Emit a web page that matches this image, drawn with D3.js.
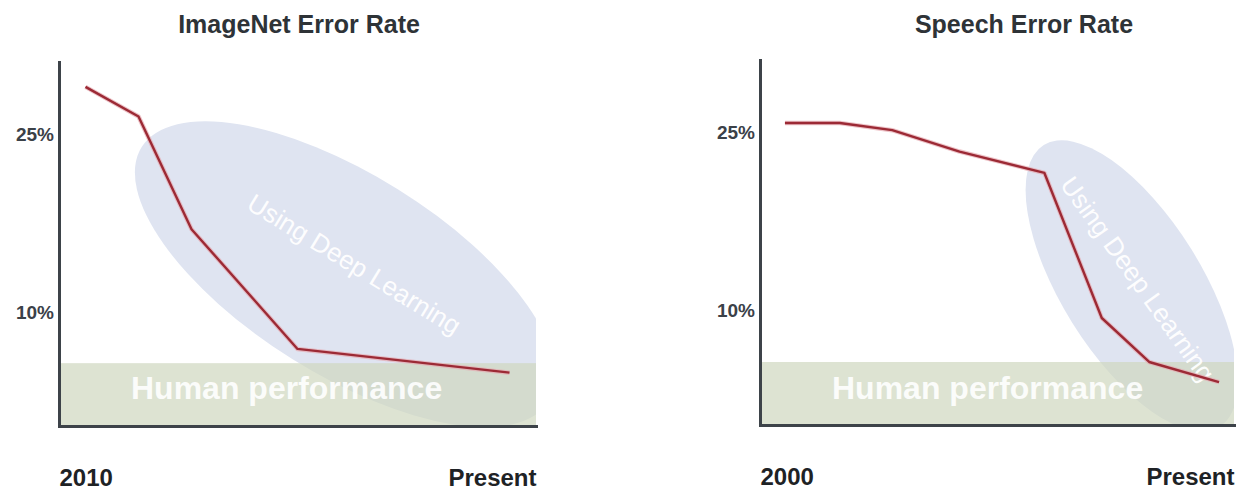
<!DOCTYPE html>
<html>
<head>
<meta charset="utf-8">
<script src="https://cdnjs.cloudflare.com/ajax/libs/d3/7.8.5/d3.min.js"></script>
<style>
    body { margin: 0; background: #fff; }
    #wrapper { width: 1245px; height: 492px; }
    text { font-family: "Liberation Sans", Arial, Helvetica, sans-serif; }
    .title { font-size: 25px; font-weight: bold; fill: #2e3337; text-anchor: middle; }
    .y-axis text { font-size: 19px; font-weight: bold; fill: #3b4148; }
    .x-axis text { font-size: 24px; font-weight: bold; fill: #1e2225; }
    .y-axis path, .x-axis path { stroke: #3d4349; stroke-width: 3; stroke-linecap: square; }
    .human-label { font-size: 32px; font-weight: bold; fill: #fff; opacity: 0.9; }
    .dl-label { font-size: 26px; fill: #fff; opacity: 0.95; text-anchor: middle; dominant-baseline: central; }
</style>
</head>
<body>
<div id="wrapper"></div>
<script>
// 1. Data
const titles = ["ImageNet Error Rate", "Speech Error Rate"]
const imagenetYears = [2010.5, 2011.5, 2012.5, 2014.5, 2018.5]
const imagenetErrors = [29.0, 26.5, 17.0, 6.9, 4.9]
const speechYears = [2001, 2003.2, 2005.3, 2008, 2011.4, 2013.7, 2015.6, 2018.4]
const speechErrors = [25.8, 25.8, 25.2, 23.4, 21.6, 9.4, 5.7, 4.0]
const yearDomains = [[2010, 2019], [2000, 2019]]
const xTickLabels = [["2010", "Present"], ["2000", "Present"]]
const errorDomain = [0.4, 31.1]
const yTicks = [10, 25]
const humanLevel = 5.7
const deepLearningCenters = [[2015.4, 13.2], [2014.9, 12.1]]
const deepLearningText = "Using Deep Learning"
const humanText = "Human performance"

const series = [
    imagenetYears.map((year, i) => ({ year, error: imagenetErrors[i] })),
    speechYears.map((year, i) => ({ year, error: speechErrors[i] })),
]

// 2. Layout of both panels
const panels = [
    { left: 59, right: 536, top: 62, bottom: 426, titleX: 299,
      rx: 240, ry: 100, angle: 32, textAngle: 31.4, textShift: [9, -10] },
    { left: 760, right: 1234, top: 60, bottom: 425, titleX: 1024,
      rx: 166, ry: 70, angle: 58, textAngle: 54.4, textShift: [6, -7] },
]

const xAccessor = d => d.year
const yAccessor = d => d.error

function drawCharts() {
    const svg = d3.select("#wrapper")
        .append("svg")
        .attr("width", 1245)
        .attr("height", 492)

    panels.forEach((p, i) => {
        const xScale = d3.scaleLinear()
            .domain(yearDomains[i])
            .range([p.left, p.right])
        const yScale = d3.scaleLinear()
            .domain(errorDomain)
            .range([p.bottom, p.top])

        const g = svg.append("g").attr("class", `panel panel-${i}`)

        g.append("clipPath")
            .attr("id", `clip-${i}`)
            .append("rect")
            .attr("x", p.left)
            .attr("y", p.top)
            .attr("width", p.right - p.left)
            .attr("height", p.bottom - p.top)

        // title
        g.append("text")
            .attr("class", "title")
            .attr("x", p.titleX)
            .attr("y", 33)
            .text(titles[i])

        // deep learning ellipse
        const [cYear, cErr] = deepLearningCenters[i]
        const cx = xScale(cYear)
        const cy = yScale(cErr)
        g.append("g")
            .attr("clip-path", `url(#clip-${i})`)
            .append("ellipse")
            .attr("cx", 0)
            .attr("cy", 0)
            .attr("rx", p.rx)
            .attr("ry", p.ry)
            .attr("transform", `translate(${cx},${cy}) rotate(${p.angle})`)
            .attr("fill", "#dfe4f1")

        // human performance band
        g.append("rect")
            .attr("x", p.left)
            .attr("y", yScale(humanLevel))
            .attr("width", p.right - p.left)
            .attr("height", yScale(errorDomain[0]) - yScale(humanLevel))
            .attr("fill", "#ced7bf")
            .attr("opacity", 0.7)

        g.append("text")
            .attr("class", "human-label")
            .attr("x", p.left + 72)
            .attr("y", 399)
            .text(humanText)

        g.append("text")
            .attr("class", "dl-label")
            .attr("transform", `translate(${cx + p.textShift[0]},${cy + p.textShift[1]}) rotate(${p.textAngle})`)
            .text(deepLearningText)

        // error line
        const lineGenerator = d3.line()
            .x(d => xScale(xAccessor(d)))
            .y(d => yScale(yAccessor(d)))

        g.append("path")
            .attr("d", lineGenerator(series[i]))
            .attr("fill", "none")
            .attr("stroke", "#e6a9b0")
            .attr("stroke-width", 4.5)
            .attr("stroke-linejoin", "round")
            .attr("opacity", 0.7)
        g.append("path")
            .attr("d", lineGenerator(series[i]))
            .attr("fill", "none")
            .attr("stroke", "#9c2a35")
            .attr("stroke-width", 2.4)
            .attr("stroke-linejoin", "round")

        // axes
        const yAxisGenerator = d3.axisLeft(yScale)
            .tickValues(yTicks)
            .tickFormat(d => d + "%")
            .tickSize(0)
            .tickSizeOuter(0)
            .tickPadding(5)

        g.append("g")
            .attr("class", "y-axis")
            .attr("transform", `translate(${p.left},0)`)
            .call(yAxisGenerator)

        const xAxisGenerator = d3.axisBottom(xScale)
            .tickValues(yearDomains[i])
            .tickFormat((d, j) => xTickLabels[i][j])
            .tickSize(0)
            .tickSizeOuter(0)
            .tickPadding(43)

        const xAxis = g.append("g")
            .attr("class", "x-axis")
            .attr("transform", `translate(0,${p.bottom})`)
            .call(xAxisGenerator)

        xAxis.selectAll(".tick text")
            .attr("text-anchor", (d, j) => j === 0 ? "start" : "end")

        g.selectAll(".domain").attr("fill", "none")
    })
}
drawCharts()
</script>
</body>
</html>
